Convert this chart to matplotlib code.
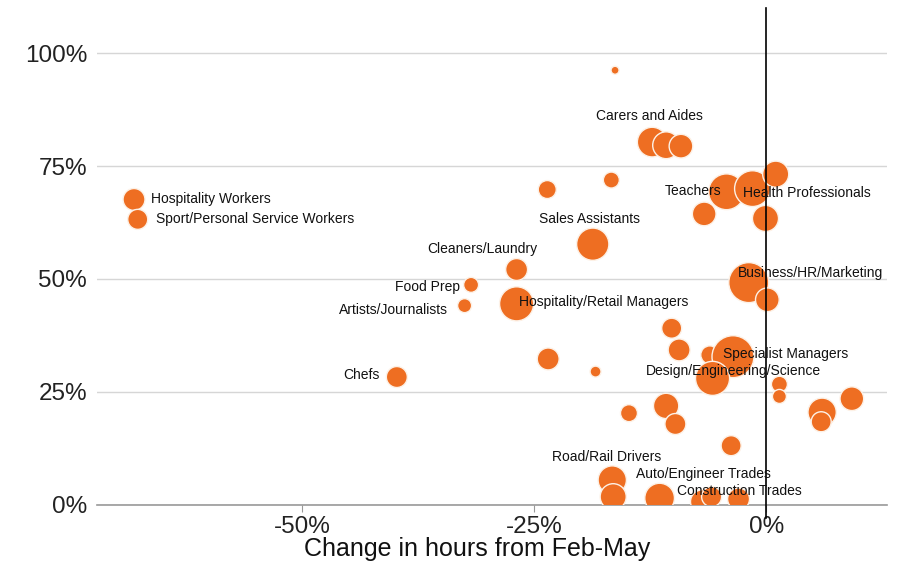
import matplotlib
matplotlib.use('Agg')
import matplotlib.pyplot as plt
import numpy as np

plt.rcParams['font.family'] = ['Liberation Sans', 'DejaVu Sans']

# 每個氣泡：工時變化 (%)、指標值 (%)、規模
change = [-16.3, -12.3, -10.8, -9.2, -4.3, -1.5, 1.0, -6.7, -0.1, -16.7,
          -23.6, -18.7, -1.9, 0.1, -26.9, -31.8, -32.5, -26.9, -68.1, -67.7,
          -39.8, -10.2, -9.4, -6.1, -3.6, -5.8, -18.4, -23.5, 1.4, 1.4,
          9.2, 6.0, 5.9, -10.8, -9.8, -14.8, -3.8, -16.6, -16.5, -11.5,
          -6.9, -5.9, -3.0]
share = [96.2, 80.3, 79.6, 79.4, 69.3, 70.0, 73.2, 64.4, 63.4, 71.9,
         69.8, 57.7, 49.2, 45.4, 52.1, 48.7, 44.1, 44.5, 67.6, 63.2,
         28.3, 39.1, 34.3, 33.2, 32.8, 28.0, 29.5, 32.3, 26.7, 24.0,
         23.5, 20.5, 18.4, 21.9, 17.9, 20.3, 13.1, 5.5, 1.8, 1.5,
         0.7, 1.8, 1.3]
workers = [1.6, 22, 18, 14, 32, 32, 17, 14, 17, 6.4,
           8.1, 26, 40, 14, 12, 5.6, 4.9, 29, 12, 10,
           11, 10, 12, 8.1, 44, 29, 3.0, 12, 6.4, 4.9,
           14, 20, 10, 16, 11, 7.2, 10, 20, 17, 22,
           14, 10, 12]

# 標籤文字
labels = ['Carers and Aides', 'Teachers', 'Health Professionals', 'Sales Assistants',
          'Hospitality Workers', 'Sport/Personal Service Workers', 'Cleaners/Laundry',
          'Food Prep', 'Artists/Journalists', 'Hospitality/Retail Managers', 'Chefs',
          'Business/HR/Marketing', 'Specialist Managers', 'Design/Engineering/Science',
          'Road/Rail Drivers', 'Auto/Engineer Trades', 'Construction Trades']
label_pos = [(-12.6, 86.1, 'center'), (-4.85, 69.5, 'right'), (-2.5, 69.0, 'left'),
             (-19.0, 63.3, 'center'), (-66.3, 67.7, 'left'), (-65.7, 63.3, 'left'),
             (-30.6, 56.6, 'center'), (-33.0, 48.2, 'right'), (-34.3, 43.1, 'right'),
             (-26.6, 44.9, 'left'), (-41.7, 28.8, 'right'), (-3.1, 51.3, 'left'),
             (-4.7, 33.4, 'left'), (-13.0, 29.6, 'left'), (-23.1, 10.6, 'left'),
             (-14.0, 6.9, 'left'), (-9.6, 3.1, 'left')]

fig = plt.figure(figsize=(8.97, 5.66), dpi=100)
ax = fig.add_axes([0.108, 0.108, 0.881, 0.878])

sizes = np.array(workers) * 10 * (0.72 * 2) ** 2
ax.scatter(change, share, s=sizes, color='#EE6E22', edgecolors='#FDF1E6',
           linewidths=1.0, zorder=3)

ax.plot([0, 0], [-3, 110], color='black', lw=1.2, zorder=4, clip_on=False)

for t, (lx, ly, ha) in zip(labels, label_pos):
    ax.text(lx, ly, t, ha=ha, va='center', fontsize=10, color='#111111', zorder=5)

ax.set_xlim(-72.1, 13.0)
ax.set_ylim(0, 110)
ax.set_yticks([0, 25, 50, 75, 100])
ax.set_yticklabels(['0%', '25%', '50%', '75%', '100%'])
ax.set_xticks([-50, -25, 0])
ax.set_xticklabels(['-50%', '-25%', '0%'])
ax.grid(axis='y', color='#d6d6d6', lw=1.0, zorder=0)
ax.tick_params(axis='y', length=0, pad=7, labelsize=17.5, labelcolor='#222222')
ax.tick_params(axis='x', length=5, color='#999999', pad=3, labelsize=17.5, labelcolor='#222222')
for s in ['top', 'right', 'left']:
    ax.spines[s].set_visible(False)
ax.spines['bottom'].set_color('#999999')
ax.spines['bottom'].set_linewidth(1.2)
ax.set_xlabel('Change in hours from Feb-May', fontsize=18, color='#111111')
ax.xaxis.set_label_coords(0.481, -0.065)

plt.savefig('out.png', dpi=100)
